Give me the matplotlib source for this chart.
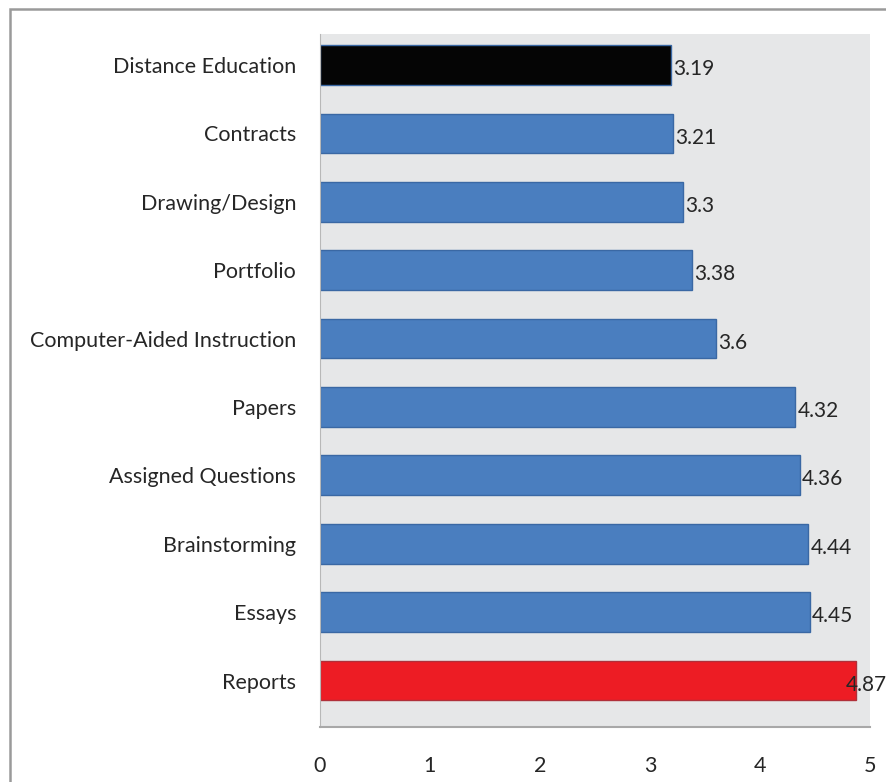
import matplotlib.pyplot as plt
import matplotlib.patches as mpatches

categories = ['Reports', 'Essays', 'Brainstorming', 'Assigned Questions', 'Papers',
              'Computer-Aided Instruction', 'Portfolio', 'Drawing/Design', 'Contracts',
              'Distance Education']
values = [4.87, 4.45, 4.44, 4.36, 4.32, 3.6, 3.38, 3.3, 3.21, 3.19]
value_labels = ['4.87', '4.45', '4.44', '4.36', '4.32', '3.6', '3.38', '3.3', '3.21', '3.19']
x_ticks = [0, 1, 2, 3, 4, 5]

colors = ['#ed1c24'] + ['#4a7ebf'] * 8 + ['#050505']
edges = ['#b0303a'] + ['#3a68a4'] * 8 + ['#3a68a4']

plt.rcParams['font.family'] = ['Lato', 'DejaVu Sans']

fig = plt.figure(figsize=(8.86, 7.82), dpi=100)
ax = fig.add_axes([0.361, 0.0703, 0.621, 0.886])
ax.set_facecolor('#e6e7e8')

y = list(range(len(categories)))
ax.barh(y, values, height=0.58, color=colors, edgecolor=edges, linewidth=1)

for yi, v, lab in zip(y, values, value_labels):
    # the last label overlaps its bar end so it stays inside the frame
    dx = 1.5 if v < 4.8 else -7
    ax.annotate(lab, (v, yi), xytext=(dx, -3), textcoords='offset points',
                ha='left', va='center', fontsize=15, color='#262626')

ax.set_yticks(y)
ax.set_yticklabels(categories, fontsize=15.5, color='#262626')
ax.set_xticks(x_ticks)
ax.set_xticklabels([str(t) for t in x_ticks], fontsize=15.5, color='#262626')
ax.set_xlim(0, 5)
ax.set_ylim(-0.68, 9.45)

ax.tick_params(axis='x', length=0, pad=21)
ax.tick_params(axis='y', length=0, pad=17)
for s in ['top', 'right']:
    ax.spines[s].set_visible(False)
ax.spines['left'].set_color('#b8b8b8')
ax.spines['bottom'].set_color('#a8a8a8')
ax.spines['bottom'].set_linewidth(1.5)

border = mpatches.Rectangle((10 / 886, -0.2), 1.2, 1.2 - 9 / 782,
                            transform=fig.transFigure, fill=False,
                            edgecolor='#9a9a9a', linewidth=1.8)
fig.patches.append(border)

fig.savefig('out.png', dpi=100)
